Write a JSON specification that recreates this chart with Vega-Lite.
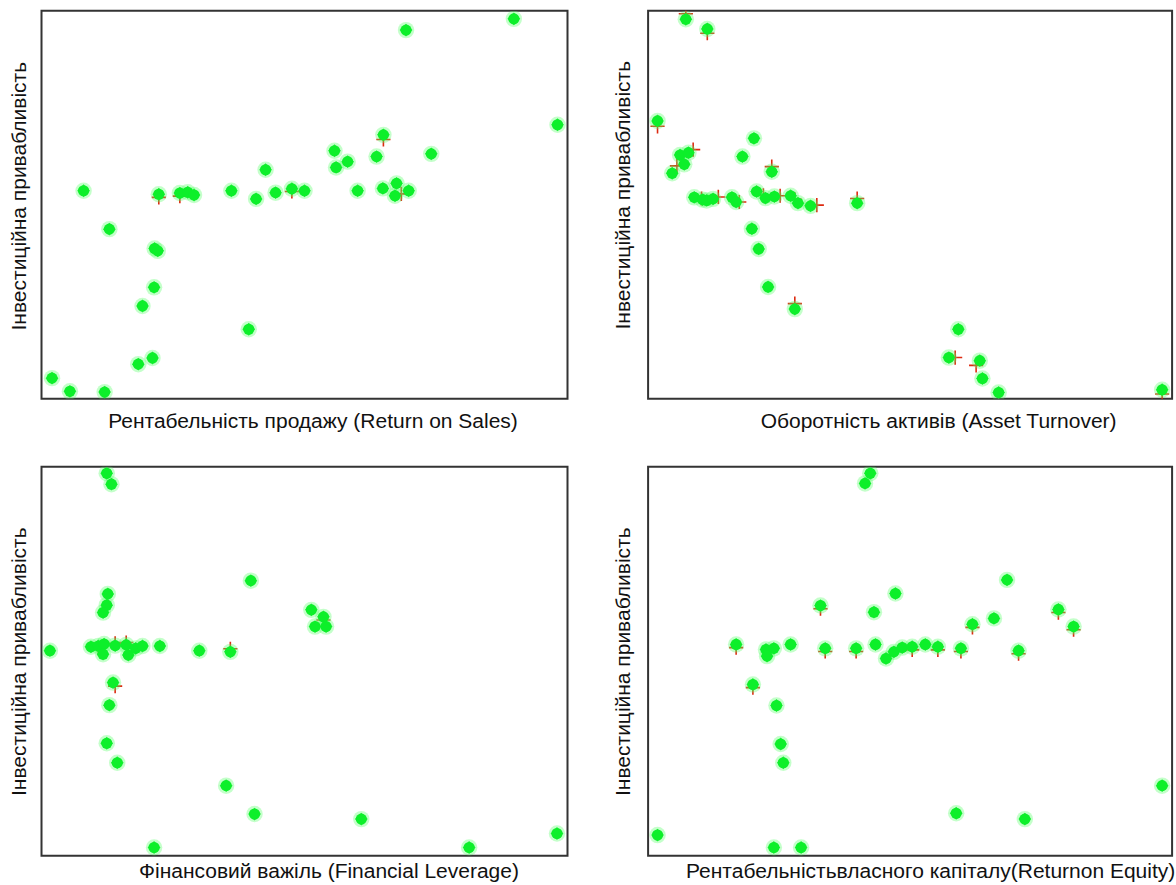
{
  "$schema": "https://vega.github.io/schema/vega-lite/v6.json",
  "padding": {"left": 6.5, "top": 9.7, "right": 0, "bottom": 0},
  "background": "white",
  "config": {
    "view": {"stroke": "#333333", "strokeWidth": 2},
    "axis": {"labels": false, "ticks": false, "domain": false, "grid": false, "titleFont": "Liberation Sans", "titleFontSize": 21, "titleFontWeight": "normal", "titleColor": "#111111"}
  },
  "datasets": {
    "g1": [
      {"x": 2.0, "y": 5.3}, {"x": 5.4, "y": 1.9}, {"x": 12.0, "y": 1.7}, {"x": 8.0, "y": 53.6}, {"x": 12.9, "y": 43.7},
      {"x": 21.5, "y": 38.7}, {"x": 22.1, "y": 38.1}, {"x": 21.4, "y": 28.7}, {"x": 19.2, "y": 23.9}, {"x": 18.4, "y": 8.9},
      {"x": 21.1, "y": 10.5}, {"x": 39.4, "y": 17.9}, {"x": 22.3, "y": 52.7}, {"x": 26.3, "y": 53.0}, {"x": 27.8, "y": 53.2},
      {"x": 29.0, "y": 52.5}, {"x": 36.1, "y": 53.6}, {"x": 40.8, "y": 51.5}, {"x": 42.6, "y": 59.0}, {"x": 44.5, "y": 53.1},
      {"x": 47.6, "y": 54.1}, {"x": 50.0, "y": 53.6}, {"x": 55.7, "y": 63.9}, {"x": 56.0, "y": 59.6}, {"x": 58.2, "y": 61.1},
      {"x": 60.1, "y": 53.6}, {"x": 63.7, "y": 62.4}, {"x": 65.0, "y": 68.0}, {"x": 64.9, "y": 54.2}, {"x": 67.5, "y": 55.5},
      {"x": 67.2, "y": 52.3}, {"x": 69.8, "y": 53.6}, {"x": 74.1, "y": 63.1}, {"x": 69.3, "y": 95.0}, {"x": 89.8, "y": 97.9},
      {"x": 98.1, "y": 70.6}
    ],
    "r1": [
      {"x": 65.0, "y": 66.8}, {"x": 68.4, "y": 52.8}, {"x": 47.6, "y": 53.4}, {"x": 22.3, "y": 51.9}, {"x": 26.3, "y": 52.2}
    ],
    "g2": [
      {"x": 7.2, "y": 97.8}, {"x": 11.3, "y": 95.3}, {"x": 1.8, "y": 71.6}, {"x": 20.2, "y": 67.1}, {"x": 18.0, "y": 62.4},
      {"x": 6.1, "y": 62.8}, {"x": 7.7, "y": 63.4}, {"x": 6.9, "y": 60.4}, {"x": 4.6, "y": 58.1}, {"x": 23.6, "y": 58.5},
      {"x": 8.8, "y": 51.9}, {"x": 10.4, "y": 51.3}, {"x": 11.2, "y": 51.1}, {"x": 12.4, "y": 51.5}, {"x": 16.0, "y": 51.9},
      {"x": 16.8, "y": 50.7}, {"x": 20.7, "y": 53.4}, {"x": 22.4, "y": 51.7}, {"x": 24.1, "y": 52.1}, {"x": 27.2, "y": 52.3},
      {"x": 28.6, "y": 50.4}, {"x": 31.0, "y": 49.7}, {"x": 39.9, "y": 50.4}, {"x": 19.8, "y": 43.8}, {"x": 21.1, "y": 38.6},
      {"x": 22.9, "y": 28.8}, {"x": 28.0, "y": 23.1}, {"x": 59.2, "y": 17.9}, {"x": 57.4, "y": 10.6}, {"x": 63.3, "y": 9.8},
      {"x": 63.8, "y": 5.2}, {"x": 66.9, "y": 1.6}, {"x": 98.1, "y": 2.3}
    ],
    "r2": [
      {"x": 7.2, "y": 99.2}, {"x": 1.8, "y": 70.2}, {"x": 8.6, "y": 64.2}, {"x": 5.5, "y": 60.0}, {"x": 23.6, "y": 59.8},
      {"x": 10.2, "y": 51.6}, {"x": 13.4, "y": 52.0}, {"x": 17.4, "y": 50.7}, {"x": 22.0, "y": 52.4}, {"x": 25.2, "y": 52.3},
      {"x": 28.0, "y": 51.4}, {"x": 32.2, "y": 49.9}, {"x": 39.9, "y": 51.6}, {"x": 28.0, "y": 24.5}, {"x": 58.6, "y": 10.6},
      {"x": 62.6, "y": 8.6}, {"x": 98.1, "y": 1.2}, {"x": 11.3, "y": 94.2}
    ],
    "g3": [
      {"x": 12.4, "y": 98.3}, {"x": 13.3, "y": 95.5}, {"x": 12.6, "y": 67.3}, {"x": 12.4, "y": 64.4}, {"x": 11.7, "y": 62.5},
      {"x": 39.8, "y": 70.7}, {"x": 51.3, "y": 63.2}, {"x": 53.6, "y": 61.4}, {"x": 52.0, "y": 58.9}, {"x": 54.1, "y": 58.9},
      {"x": 1.6, "y": 52.7}, {"x": 9.4, "y": 53.7}, {"x": 10.8, "y": 53.9}, {"x": 11.9, "y": 54.4}, {"x": 11.7, "y": 51.8},
      {"x": 14.0, "y": 54.0}, {"x": 16.1, "y": 54.2}, {"x": 16.5, "y": 51.6}, {"x": 17.9, "y": 53.3}, {"x": 19.2, "y": 53.9},
      {"x": 22.5, "y": 53.9}, {"x": 30.0, "y": 52.7}, {"x": 35.9, "y": 52.4}, {"x": 13.6, "y": 44.5}, {"x": 12.9, "y": 38.7},
      {"x": 12.4, "y": 28.9}, {"x": 14.4, "y": 23.9}, {"x": 35.1, "y": 18.0}, {"x": 40.5, "y": 10.7}, {"x": 60.8, "y": 9.4},
      {"x": 21.4, "y": 2.1}, {"x": 81.3, "y": 2.1}, {"x": 98.0, "y": 5.7}
    ],
    "r3": [
      {"x": 14.0, "y": 54.6}, {"x": 16.1, "y": 54.8}, {"x": 35.9, "y": 53.2}, {"x": 14.0, "y": 43.6}, {"x": 10.8, "y": 53.3}, {"x": 53.6, "y": 60.6}
    ],
    "g4": [
      {"x": 42.4, "y": 98.3}, {"x": 41.4, "y": 95.7}, {"x": 68.5, "y": 70.9}, {"x": 47.2, "y": 67.4}, {"x": 32.9, "y": 64.3},
      {"x": 43.1, "y": 62.6}, {"x": 78.3, "y": 63.3}, {"x": 66.0, "y": 61.0}, {"x": 61.9, "y": 59.5}, {"x": 81.2, "y": 58.9},
      {"x": 16.8, "y": 54.3}, {"x": 22.5, "y": 53.0}, {"x": 24.0, "y": 53.3}, {"x": 22.7, "y": 51.3}, {"x": 27.2, "y": 54.3},
      {"x": 33.8, "y": 53.3}, {"x": 39.7, "y": 53.3}, {"x": 43.4, "y": 54.3}, {"x": 45.4, "y": 50.7}, {"x": 46.9, "y": 52.4},
      {"x": 48.5, "y": 53.5}, {"x": 50.4, "y": 53.7}, {"x": 52.9, "y": 54.3}, {"x": 55.3, "y": 53.7}, {"x": 59.7, "y": 53.3},
      {"x": 70.7, "y": 52.7}, {"x": 20.0, "y": 44.0}, {"x": 24.5, "y": 38.6}, {"x": 25.3, "y": 28.7}, {"x": 25.8, "y": 23.9},
      {"x": 58.8, "y": 10.9}, {"x": 71.9, "y": 9.4}, {"x": 1.8, "y": 5.3}, {"x": 24.0, "y": 2.1}, {"x": 29.2, "y": 2.1},
      {"x": 98.1, "y": 18.0}
    ],
    "r4": [
      {"x": 32.9, "y": 63.5}, {"x": 78.3, "y": 62.5}, {"x": 61.9, "y": 58.7}, {"x": 81.2, "y": 58.1}, {"x": 16.8, "y": 53.5},
      {"x": 33.8, "y": 52.5}, {"x": 39.7, "y": 52.5}, {"x": 50.4, "y": 52.9}, {"x": 55.3, "y": 52.9}, {"x": 59.7, "y": 52.5},
      {"x": 70.7, "y": 51.9}, {"x": 20.0, "y": 43.2}
    ]
  },
  "columns": 2,
  "bounds": "flush",
  "spacing": {"row": 68, "column": 80.6},
  "concat": [
    {
      "width": 526, "height": 388,
      "encoding": {
        "x": {"field": "x", "type": "quantitative", "scale": {"domain": [0, 100], "nice": false, "zero": false}, "axis": {"title": "Рентабельність продажу  (Return on Sales)", "titlePadding": 12, "titleX": 271}},
        "y": {"field": "y", "type": "quantitative", "scale": {"domain": [0, 100], "nice": false, "zero": false}, "axis": {"title": "Інвестиційна привабливість", "titlePadding": 12.5, "titleY": 185}}
      },
      "layer": [
        {"data": {"name": "r1"}, "mark": {"type": "point", "clip": true, "shape": "M-1,0H1M0,-1V1", "filled": false, "stroke": "#dd2a10", "strokeWidth": 1.6, "size": 200, "opacity": 1}},
        {"data": {"name": "g1"}, "mark": {"type": "point", "clip": true, "shape": "circle", "filled": true, "fill": "#55ff66", "opacity": 0.35, "size": 270, "strokeWidth": 0}},
        {"data": {"name": "g1"}, "mark": {"type": "point", "clip": true, "shape": "diamond", "filled": true, "fill": "#1ff03a", "opacity": 1, "size": 165, "strokeWidth": 0}},
        {"data": {"name": "g1"}, "mark": {"type": "point", "clip": true, "shape": "circle", "filled": true, "fill": "#0def2a", "opacity": 1, "size": 125, "strokeWidth": 0}}
      ]
    },
    {
      "width": 524, "height": 388,
      "encoding": {
        "x": {"field": "x", "type": "quantitative", "scale": {"domain": [0, 100], "nice": false, "zero": false}, "axis": {"title": "Оборотність активів (Asset Turnover)", "titlePadding": 12, "titleX": 290}},
        "y": {"field": "y", "type": "quantitative", "scale": {"domain": [0, 100], "nice": false, "zero": false}, "axis": {"title": "Інвестиційна привабливість", "titlePadding": 15, "titleY": 184}}
      },
      "layer": [
        {"data": {"name": "r2"}, "mark": {"type": "point", "clip": true, "shape": "M-1,0H1M0,-1V1", "filled": false, "stroke": "#dd2a10", "strokeWidth": 1.6, "size": 200, "opacity": 1}},
        {"data": {"name": "g2"}, "mark": {"type": "point", "clip": true, "shape": "circle", "filled": true, "fill": "#55ff66", "opacity": 0.35, "size": 270, "strokeWidth": 0}},
        {"data": {"name": "g2"}, "mark": {"type": "point", "clip": true, "shape": "diamond", "filled": true, "fill": "#1ff03a", "opacity": 1, "size": 165, "strokeWidth": 0}},
        {"data": {"name": "g2"}, "mark": {"type": "point", "clip": true, "shape": "circle", "filled": true, "fill": "#0def2a", "opacity": 1, "size": 125, "strokeWidth": 0}}
      ]
    },
    {
      "width": 526, "height": 389,
      "encoding": {
        "x": {"field": "x", "type": "quantitative", "scale": {"domain": [0, 100], "nice": false, "zero": false}, "axis": {"title": "Фінансовий важіль (Financial Leverage)", "titlePadding": 5, "titleX": 287}},
        "y": {"field": "y", "type": "quantitative", "scale": {"domain": [0, 100], "nice": false, "zero": false}, "axis": {"title": "Інвестиційна привабливість", "titlePadding": 12.5}}
      },
      "layer": [
        {"data": {"name": "r3"}, "mark": {"type": "point", "clip": true, "shape": "M-1,0H1M0,-1V1", "filled": false, "stroke": "#dd2a10", "strokeWidth": 1.6, "size": 200, "opacity": 1}},
        {"data": {"name": "g3"}, "mark": {"type": "point", "clip": true, "shape": "circle", "filled": true, "fill": "#55ff66", "opacity": 0.35, "size": 270, "strokeWidth": 0}},
        {"data": {"name": "g3"}, "mark": {"type": "point", "clip": true, "shape": "diamond", "filled": true, "fill": "#1ff03a", "opacity": 1, "size": 165, "strokeWidth": 0}},
        {"data": {"name": "g3"}, "mark": {"type": "point", "clip": true, "shape": "circle", "filled": true, "fill": "#0def2a", "opacity": 1, "size": 125, "strokeWidth": 0}}
      ]
    },
    {
      "width": 524, "height": 389,
      "encoding": {
        "x": {"field": "x", "type": "quantitative", "scale": {"domain": [0, 100], "nice": false, "zero": false}, "axis": {"title": "Рентабельністьвласного капіталу(Returnon Equity)", "titlePadding": 5, "titleX": 282}},
        "y": {"field": "y", "type": "quantitative", "scale": {"domain": [0, 100], "nice": false, "zero": false}, "axis": {"title": "Інвестиційна привабливість", "titlePadding": 15}}
      },
      "layer": [
        {"data": {"name": "r4"}, "mark": {"type": "point", "clip": true, "shape": "M-1,0H1M0,-1V1", "filled": false, "stroke": "#dd2a10", "strokeWidth": 1.6, "size": 200, "opacity": 1}},
        {"data": {"name": "g4"}, "mark": {"type": "point", "clip": true, "shape": "circle", "filled": true, "fill": "#55ff66", "opacity": 0.35, "size": 270, "strokeWidth": 0}},
        {"data": {"name": "g4"}, "mark": {"type": "point", "clip": true, "shape": "diamond", "filled": true, "fill": "#1ff03a", "opacity": 1, "size": 165, "strokeWidth": 0}},
        {"data": {"name": "g4"}, "mark": {"type": "point", "clip": true, "shape": "circle", "filled": true, "fill": "#0def2a", "opacity": 1, "size": 125, "strokeWidth": 0}}
      ]
    }
  ]
}
